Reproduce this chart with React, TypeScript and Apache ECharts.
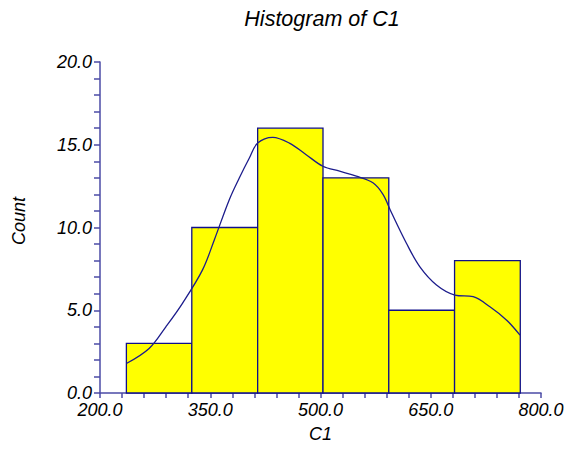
import React, { useEffect, useRef } from "react";
import * as echarts from "echarts";

// Histogram bins (edges) and counts
const binEdges = [235.9, 324.9, 414.5, 503.4, 592.9, 682.4, 771.8];
const counts = [3, 10, 16, 13, 5, 8];

// Density (count-scaled) curve
const curveX = [235.9, 266.8, 289.6, 312.2, 339.5, 355.5, 375.9, 389.5, 403.2, 414.5, 435, 457.7, 480.5, 503.2, 526, 548.7, 571.3, 585, 596, 616.9, 635, 657.8, 682.8, 707.7, 730.5, 753.3, 771.4];
const curveY = [1.78, 2.69, 4.0, 5.42, 7.44, 9.25, 11.68, 12.99, 14.2, 15.1, 15.45, 15.1, 14.4, 13.7, 13.4, 13.1, 12.7, 12.0, 10.95, 9.05, 7.64, 6.53, 5.92, 5.82, 5.21, 4.4, 3.5];

const xTickMin = 200;
const xTickMax = 800;
const xTickStep = 150;
const yTickMax = 20;
const yTickStep = 5;

const FONT = "'Liberation Sans', Arial, Helvetica, sans-serif";
const AXIS_COLOR = "#4b4ba6";
const BAR_BORDER = "#10108a";
const CURVE_COLOR = "#1c1c8c";

export default function App() {
  const ref = useRef<HTMLDivElement>(null);
  useEffect(() => {
    if (!ref.current) return;
    const chart = echarts.init(ref.current, undefined, { renderer: "svg" });
    const barData = counts.map((c, i) => [binEdges[i] - xTickMin, binEdges[i + 1] - xTickMin, c]);
    const lineData = curveX.map((x, i) => [x - xTickMin, curveY[i]]);
    const labelStyle = { fontFamily: FONT, fontStyle: "italic" as const, fontSize: 18, color: "#000" };
    chart.setOption({
      animation: false,
      grid: { left: 100, right: 27, top: 62, bottom: 60, containLabel: false },
      graphic: [
        {
          type: "text",
          x: 322,
          y: 19,
          style: { text: "Histogram of C1", fontFamily: FONT, fontStyle: "italic", fontSize: 21.5, fill: "#000", textAlign: "center", textVerticalAlign: "middle" },
        },
        {
          type: "text",
          x: 19,
          y: 221,
          rotation: Math.PI / 2,
          style: { text: "Count", fontFamily: FONT, fontStyle: "italic", fontSize: 18, fill: "#000", textAlign: "center", textVerticalAlign: "middle" },
        },
      ],
      xAxis: {
        type: "value",
        min: 0,
        max: xTickMax - xTickMin,
        interval: xTickStep,
        name: "C1",
        nameLocation: "middle",
        nameGap: 32,
        nameTextStyle: labelStyle,
        axisLine: { show: true, onZero: false, lineStyle: { color: AXIS_COLOR, width: 1.5 } },
        axisTick: { show: true, length: 5, lineStyle: { color: AXIS_COLOR, width: 1.5 } },
        minorTick: { show: true, splitNumber: 5, length: 5, lineStyle: { color: AXIS_COLOR, width: 1.5 } },
        splitLine: { show: false },
        minorSplitLine: { show: false },
        axisLabel: { ...labelStyle, margin: 8, formatter: (v: number) => (v + xTickMin).toFixed(1) },
      },
      yAxis: {
        type: "value",
        min: 0,
        max: yTickMax,
        interval: yTickStep,
        axisLine: { show: true, lineStyle: { color: AXIS_COLOR, width: 1.5 } },
        axisTick: { show: true, length: 6, lineStyle: { color: AXIS_COLOR, width: 1.5 } },
        minorTick: { show: true, splitNumber: 5, length: 6, lineStyle: { color: AXIS_COLOR, width: 1.5 } },
        splitLine: { show: false },
        minorSplitLine: { show: false },
        axisLabel: { ...labelStyle, margin: 8, formatter: (v: number) => v.toFixed(1) },
      },
      series: [
        {
          type: "custom",
          data: barData,
          encode: { x: [0, 1], y: 2 },
          renderItem: (params: any, api: any) => {
            const p0 = api.coord([api.value(0), api.value(2)]);
            const p1 = api.coord([api.value(1), 0]);
            return {
              type: "rect",
              shape: { x: p0[0], y: p0[1], width: p1[0] - p0[0], height: p1[1] - p0[1] },
              style: { fill: "#ffff00", stroke: BAR_BORDER, lineWidth: 1.3 },
            };
          },
          z: 2,
        },
        {
          type: "line",
          data: lineData,
          smooth: 0.35,
          showSymbol: false,
          symbol: "none",
          lineStyle: { color: CURVE_COLOR, width: 1.3 },
          z: 3,
        },
      ],
    });
    return () => chart.dispose();
  }, []);
  return <div ref={ref} style={{ width: 568, height: 453, position: "absolute", left: 0, top: 0 }} />;
}
